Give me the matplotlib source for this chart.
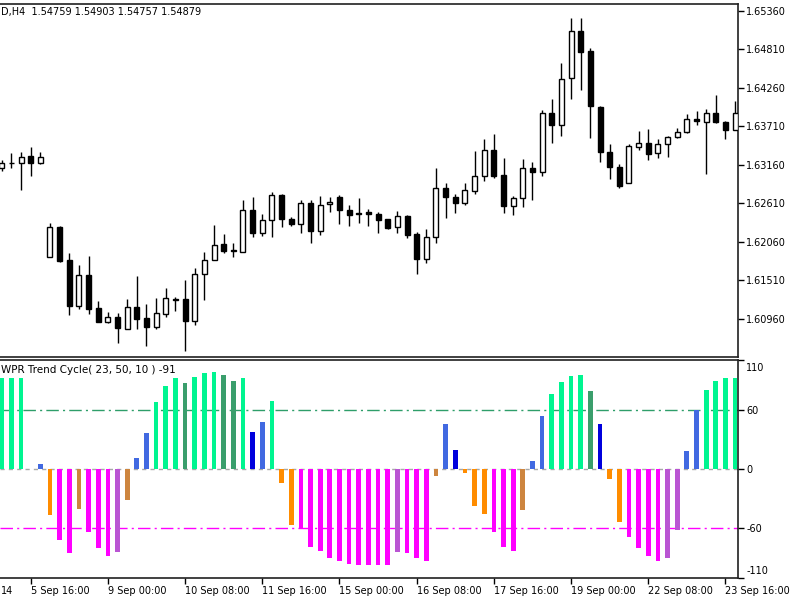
import matplotlib
matplotlib.use("Agg")
import matplotlib.pyplot as plt
from matplotlib.patches import Rectangle
import matplotlib.transforms as mtransforms

# ---------------- data ----------------
opens = [1.63117, 1.63181, 1.63184, 1.63289, 1.63184, 1.61850, 1.62279, 1.61803, 1.61146, 1.61584,
         1.61121, 1.60921, 1.60993, 1.60821, 1.61136, 1.60979, 1.60850, 1.61027, 1.61241, 1.61241,
         1.60936, 1.61599, 1.61803, 1.62031, 1.61936, 1.61921, 1.62517, 1.62184, 1.62374, 1.62731,
         1.62389, 1.62317, 1.62621, 1.62217, 1.62599, 1.62707, 1.62517, 1.62479, 1.62484, 1.62460,
         1.62384, 1.62270, 1.62431, 1.62174, 1.61817, 1.62127, 1.62827, 1.62707, 1.62621, 1.62789,
         1.63003, 1.63374, 1.63017, 1.62574, 1.62684, 1.63113, 1.63056, 1.63899, 1.63731, 1.64399,
         1.65074, 1.64789, 1.63993, 1.63350, 1.63127, 1.62907, 1.63421, 1.63479, 1.63327, 1.63460,
         1.63556, 1.63627, 1.63821, 1.63779, 1.63899, 1.63779, 1.63660]
highs = [1.63231, 1.63331, 1.63350, 1.63413, 1.63341, 1.62327, 1.62289, 1.61899, 1.61731, 1.61860,
         1.61221, 1.61064, 1.61050, 1.61241, 1.61574, 1.61170, 1.61256, 1.61399, 1.61279, 1.61517,
         1.61684, 1.61913, 1.62303, 1.62170, 1.62041, 1.62660, 1.62707, 1.62460, 1.62779, 1.62746,
         1.62421, 1.62660, 1.62660, 1.62717, 1.62699, 1.62731, 1.62589, 1.62684, 1.62527, 1.62493,
         1.62393, 1.62507, 1.62446, 1.62207, 1.62241, 1.63113, 1.62899, 1.62746, 1.62899, 1.63360,
         1.63527, 1.63603, 1.63256, 1.62717, 1.63241, 1.63199, 1.63946, 1.64099, 1.64613, 1.65256,
         1.65256, 1.64827, 1.64003, 1.63460, 1.63170, 1.63456, 1.63646, 1.63670, 1.63527, 1.63574,
         1.63693, 1.63889, 1.63931, 1.63956, 1.64160, 1.63793, 1.64079]
lows = [1.63074, 1.63117, 1.62803, 1.63003, 1.63170, 1.61840, 1.61779, 1.61017, 1.61099, 1.61027,
        1.60915, 1.60899, 1.60621, 1.60815, 1.60813, 1.60574, 1.60821, 1.60984, 1.61074, 1.60507,
        1.60874, 1.61231, 1.61796, 1.61907, 1.61850, 1.61914, 1.62127, 1.62146, 1.62136, 1.62279,
        1.62289, 1.62184, 1.62041, 1.62160, 1.62493, 1.62313, 1.62289, 1.62327, 1.62289, 1.62193,
        1.62241, 1.62193, 1.62121, 1.61603, 1.61764, 1.62050, 1.62399, 1.62479, 1.62589, 1.62746,
        1.62936, 1.62970, 1.62479, 1.62446, 1.62564, 1.62660, 1.63007, 1.63470, 1.63574, 1.64103,
        1.64231, 1.63541, 1.63207, 1.62960, 1.62827, 1.62900, 1.63374, 1.63231, 1.63256, 1.63270,
        1.63541, 1.63613, 1.63731, 1.63027, 1.63756, 1.63527, 1.63655]
closes = [1.63189, 1.63189, 1.63279, 1.63184, 1.63270, 1.62270, 1.61793, 1.61146, 1.61584, 1.61107,
          1.60921, 1.60993, 1.60836, 1.61136, 1.60956, 1.60850, 1.61050, 1.61256, 1.61234, 1.60936,
          1.61603, 1.61803, 1.62013, 1.61936, 1.61941, 1.62517, 1.62184, 1.62374, 1.62731, 1.62384,
          1.62313, 1.62613, 1.62217, 1.62589, 1.62636, 1.62517, 1.62450, 1.62460, 1.62460, 1.62374,
          1.62256, 1.62431, 1.62160, 1.61817, 1.62136, 1.62827, 1.62699, 1.62621, 1.62803, 1.63007,
          1.63374, 1.63003, 1.62574, 1.62684, 1.63113, 1.63056, 1.63899, 1.63731, 1.64384, 1.65074,
          1.64779, 1.64003, 1.63350, 1.63127, 1.62864, 1.63431, 1.63479, 1.63317, 1.63460, 1.63564,
          1.63627, 1.63821, 1.63784, 1.63899, 1.63779, 1.63660, 1.63899]

wpr_values = [91.7, 91.7, 91.7, 0.0, 5.0, -46.3, -71.7, -85.0, -40.7, -63.3,
              -80.0, -88.3, -84.0, -31.7, 11.0, 36.3, 67.7, 83.3, 91.7, 86.7,
              92.7, 96.7, 97.7, 95.3, 89.3, 91.7, 37.7, 47.0, 68.7, -14.0,
              -56.3, -60.7, -79.0, -82.3, -89.7, -93.3, -95.7, -97.3, -97.3, -97.3,
              -97.3, -84.0, -85.0, -89.7, -93.3, -6.7, 45.0, 19.3, -4.0, -37.3,
              -45.7, -63.3, -79.0, -82.3, -41.7, 8.3, 53.3, 76.0, 88.3, 94.3,
              95.3, 78.3, 45.0, -10.0, -53.3, -68.3, -80.0, -88.3, -93.0, -89.7,
              -61.7, 18.3, 59.3, 80.0, 89.3, 91.7, 91.7]
# bar state codes: G strong up, D weakening up, B rising, K falling-from-up,
# O falling, P weakening down, M strong down, V down rebound
wpr_states = list("GGGBBOMMPMMMVPBBGGGDGGGDDGKBGOOMMMMMMMMMMVMMMPBKOOOMMMPBBGGGGDKOOMMMMVVBBGGGG")

price_ticks = [1.60960, 1.61510, 1.62060, 1.62610, 1.63160, 1.63710, 1.64260, 1.64810, 1.65360]
wpr_ticks = [110, 60, 0, -60, -110]
wpr_levels = [60, -60]
time_tick_bars = [3, 11, 19, 27, 35, 43, 51, 59, 67, 75]
time_tick_labels = ["5 Sep 16:00", "9 Sep 00:00", "10 Sep 08:00", "11 Sep 16:00", "15 Sep 00:00",
                    "16 Sep 08:00", "17 Sep 16:00", "19 Sep 00:00", "22 Sep 08:00", "23 Sep 16:00"]
first_label_tail = "14"
header_text = "D,H4  1.54759 1.54903 1.54757 1.54879"
indicator_title = "WPR Trend Cycle( 23, 50, 10 ) -91"

state_colors = {"G": "#00F590", "D": "#3A9E6C", "B": "#4169E1", "K": "#0000DD",
                "O": "#FF8C00", "P": "#CD853F", "M": "#FF00FF", "V": "#BA55D3"}

# ---------------- figure ----------------
plt.rcParams["font.family"] = ["DejaVu Sans"]
W, H = 800, 600
fig = plt.figure(figsize=(8, 6), dpi=100)
fig.patch.set_facecolor("white")

right_px = 738
ax1 = fig.add_axes([0, 1 - 357 / H, right_px / W, (357 - 4) / H])
ax2 = fig.add_axes([0, 1 - 578 / H, right_px / W, (578 - 360) / H])

n = len(opens)
xs = list(range(n))
xlim = (-0.18, 76.3)

# candles
body_w = 0.52
for i in xs:
    o, h, l, c = opens[i], highs[i], lows[i], closes[i]
    ax1.vlines(i, l, h, color="black", linewidth=1.0, zorder=2)
    bottom = min(o, c)
    height = abs(c - o)
    fc = "white" if c >= o else "black"
    ax1.add_patch(Rectangle((i - body_w / 2, bottom), body_w, height,
                            facecolor=fc, edgecolor="black", linewidth=1.0, zorder=3))

ax1.set_xlim(*xlim)
ax1.set_ylim(1.60416, 1.65460)
ax1.yaxis.tick_right()
ax1.set_yticks(price_ticks)
ax1.set_yticklabels([f"{p:.5f}" for p in price_ticks])
ax1.tick_params(axis="y", direction="out", length=4, width=1, pad=2, labelsize=7, colors="black")
ax1.set_xticks([])

# indicator
colors = [state_colors[s] for s in wpr_states]
ax2.bar(xs, wpr_values, width=0.49, color=colors, zorder=3, linewidth=0)
ax2.axhline(0, color="#A8A8A8", linewidth=1.0, linestyle=(0, (3, 3)), zorder=1)
ax2.axhline(wpr_levels[0], color="#2E9E6A", linewidth=1.0, linestyle=(0, (9, 3, 1.5, 3)), zorder=2)
ax2.axhline(wpr_levels[1], color="#FF00FF", linewidth=1.0, linestyle=(0, (9, 3, 1.5, 3)), zorder=2)
ax2.set_xlim(*xlim)
ax2.set_ylim(-110, 110)
ax2.yaxis.tick_right()
ax2.set_yticks(wpr_ticks)
ax2.set_yticklabels([str(v) for v in wpr_ticks])
ax2.tick_params(axis="y", direction="out", length=4, width=1, pad=2, labelsize=7, colors="black")
# nudge edge labels inside like the terminal does
tl = ax2.get_yticklabels()
tl[0].set_transform(tl[0].get_transform() + mtransforms.ScaledTranslation(0, -5 / 72, fig.dpi_scale_trans))
tl[-1].set_transform(tl[-1].get_transform() + mtransforms.ScaledTranslation(0, 6 / 72, fig.dpi_scale_trans))

ax2.set_xticks(time_tick_bars)
ax2.set_xticklabels(time_tick_labels)
ax2.tick_params(axis="x", direction="out", length=4, width=1, pad=2, labelsize=7, colors="black")
for lab in ax2.get_xticklabels():
    lab.set_horizontalalignment("left")

# tail of the first (off-screen) date label
ax2.annotate(first_label_tail, xy=(0, 0), xycoords="axes fraction",
             xytext=(1, -6), textcoords="offset points",
             fontsize=7, ha="left", va="top")

for ax in (ax1, ax2):
    ax.set_facecolor("white")
    ax.spines["left"].set_visible(False)
    for s in ("top", "right", "bottom"):
        ax.spines[s].set_color("#202020")
        ax.spines[s].set_linewidth(1.2)

fig.text(1 / W, 1 - 12 / H, header_text, fontsize=7, ha="left", va="center")
fig.text(1 / W, 1 - 370 / H, indicator_title, fontsize=7.5, ha="left", va="center")

fig.savefig("out.png", dpi=100)
